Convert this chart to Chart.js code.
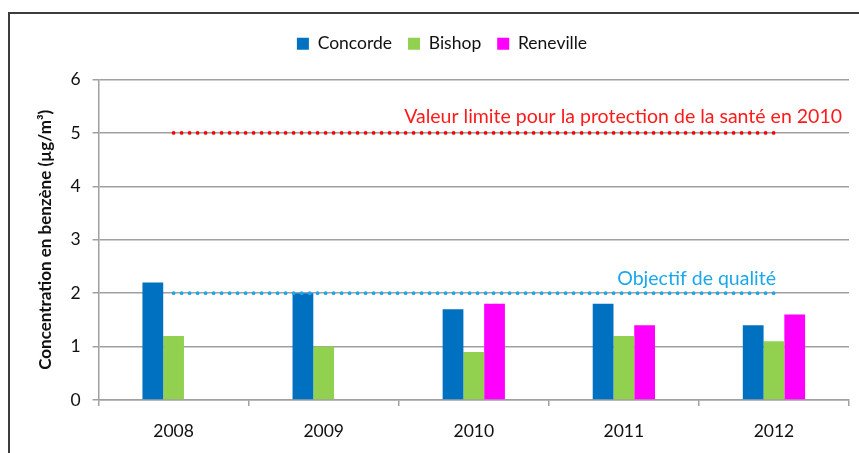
<!DOCTYPE html>
<html>
<head>
<meta charset="utf-8">
<script src="https://cdn.jsdelivr.net/npm/chart.js@4.4.0/dist/chart.umd.min.js"></script>
<style>
  html, body { margin: 0; padding: 0; background: #fff; }
  #wrap { position: relative; width: 859px; height: 453px; overflow: hidden; }
  #frame { position: absolute; left: 8px; top: 12px; width: 900px; height: 500px;
           border-left: 2px solid #3c3c3c; border-top: 2px solid #3c3c3c; }
  #myChart { position: absolute; left: 0; top: 0; }
</style>
</head>
<body>
<div id="wrap">
  <div id="frame"></div>
  <canvas id="myChart" width="859" height="453"></canvas>
</div>
<script>
let years = ["2008", "2009", "2010", "2011", "2012"];
let concorde = [2.2, 2.0, 1.7, 1.8, 1.4];
let bishop = [1.2, 1.0, 0.9, 1.2, 1.1];
let reneville = [null, null, 1.8, 1.4, 1.6];
let limitValue = [5, 5, 5, 5, 5];
let qualityGoal = [2, 2, 2, 2, 2];
let limitText = "Valeur limite pour la protection de la santé en 2010";
let goalText = "Objectif de qualité";
let yTitle = "Concentration en benzène (µg/m³)";

const fontFamily = "Lato, 'Open Sans', sans-serif";

// writes the two reference line captions above their dotted lines
const lineLabels = {
  id: 'lineLabels',
  afterDatasetsDraw(chart) {
    const ctx = chart.ctx;
    const x = chart.scales.x;
    const y = chart.scales.y;
    ctx.save();
    ctx.font = "19.5px " + fontFamily;
    ctx.textAlign = "right";
    ctx.textBaseline = "alphabetic";
    ctx.fillStyle = "#ff1a1a";
    ctx.fillText(limitText, chart.chartArea.right - 7, y.getPixelForValue(5) - 10);
    ctx.fillStyle = "#1aa7ec";
    ctx.fillText(goalText, x.getPixelForValue(4) + 2, y.getPixelForValue(2) - 8);
    ctx.restore();
  }
};

// leaves more room under the legend
const legendGap = {
  id: 'legendGap',
  beforeInit(chart) {
    const fit = chart.legend.fit;
    chart.legend.fit = function () {
      fit.bind(chart.legend)();
      this.height += 17;
    };
  }
};

function benzeneChart() {
  const data = {
    labels: years,
    datasets: [
      {
        label: 'Concorde',
        backgroundColor: '#0070c0',
        data: concorde,
        order: 2
      },
      {
        label: 'Bishop',
        backgroundColor: '#92d050',
        data: bishop,
        order: 2
      },
      {
        label: 'Reneville',
        backgroundColor: '#ff00ff',
        data: reneville,
        order: 2
      },
      {
        type: 'line',
        label: 'limite',
        data: limitValue,
        borderColor: '#ff0000',
        borderWidth: 3.8,
        borderDash: [0, 8],
        borderCapStyle: 'round',
        pointRadius: 0,
        fill: false,
        order: 1
      },
      {
        type: 'line',
        label: 'objectif',
        data: qualityGoal,
        borderColor: '#1aa7ec',
        borderWidth: 3.8,
        borderDash: [0, 8],
        borderCapStyle: 'round',
        pointRadius: 0,
        fill: false,
        order: 1
      }
    ]
  };

  const config = {
    type: 'bar',
    data,
    plugins: [legendGap, lineLabels],
    options: {
      responsive: false,
      animation: false,
      datasets: {
        bar: {
          categoryPercentage: 0.415,
          barPercentage: 1.0
        }
      },
      layout: {
        padding: { left: 35, right: 10, top: 19, bottom: -4 }
      },
      plugins: {
        tooltip: { enabled: false },
        legend: {
          position: 'top',
          labels: {
            filter: item => item.datasetIndex < 3,
            boxWidth: 12,
            boxHeight: 12,
            padding: 16,
            color: '#111',
            font: { family: fontFamily, size: 17.5 }
          }
        }
      },
      scales: {
        x: {
          grid: {
            drawOnChartArea: false,
            tickLength: 6,
            color: '#a0a0a0',
            lineWidth: 1.5
          },
          border: { color: '#a0a0a0', width: 1.5 },
          ticks: {
            padding: 15,
            color: '#111',
            font: { family: fontFamily, size: 17.5 }
          }
        },
        y: {
          min: 0,
          max: 6,
          ticks: {
            stepSize: 1,
            padding: 12,
            color: '#111',
            font: { family: fontFamily, size: 17.5 }
          },
          grid: {
            tickLength: 6,
            color: '#a0a0a0',
            lineWidth: 1.5
          },
          border: { color: '#a0a0a0', width: 1.5 },
          title: {
            display: true,
            text: yTitle,
            color: '#111',
            padding: { top: 0, bottom: 3 },
            font: { family: fontFamily, size: 17, weight: 'bold' }
          }
        }
      }
    }
  };

  var myChart = new Chart(
    document.getElementById('myChart'),
    config
  );
}
benzeneChart();
</script>
</body>
</html>
